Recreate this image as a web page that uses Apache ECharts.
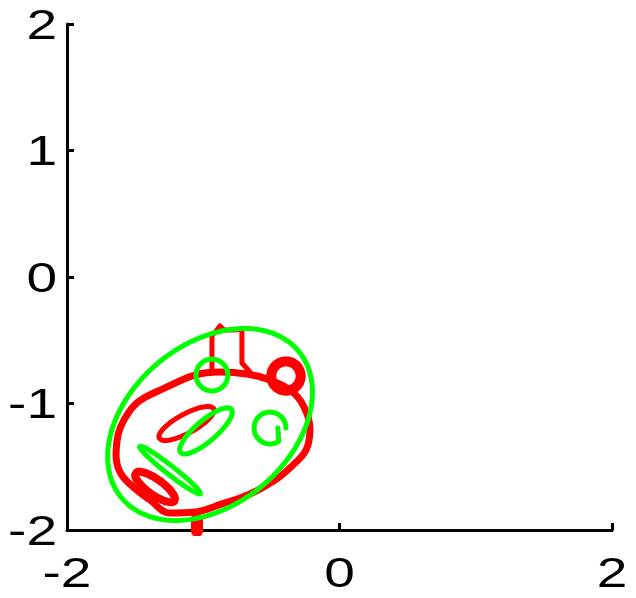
<!DOCTYPE html>
<html><head><meta charset="utf-8">
<script src="https://cdn.jsdelivr.net/npm/echarts@6/dist/echarts.min.js"></script>
<style>html,body{margin:0;padding:0;background:#fff;}#c{width:636px;height:598px;}</style>
</head><body><div id="c"></div>
<script>
// axis ranges / ticks
const xRange = [-2, 2];
const yRange = [-2, 2];
const xStep = 2;
const yStep = 1;
const xTickValues = [-2, 0, 2];
const xTickLabels = ['-2', '0', '2'];
const yTickValues = [-2, -1, 0, 1, 2];
const yTickLabels = ['-2', '-1', '0', '1', '2'];

// ellipse shapes: [cx, cy, rx, ry, rotationDeg, startDeg, endDeg] (data units)
const greenOuter       = [-0.950, -1.166, 0.873, 0.615, 45.8, 0, 360];
const greenSmallCircle = [-0.936, -0.775, 0.117, 0.126, 0, 0, 360];
const greenLens        = [-0.980, -1.217, 0.254, 0.080, 43.1, 0, 360];
const greenC           = [-0.510, -1.194, 0.117, 0.126, 0, 0, 310];
const greenCHookEnd    = [-0.452, -1.194];
const greenBar         = [-1.244, -1.526, 0.291, 0.033, -40.1, 0, 360];

const redRing       = [-0.393, -0.783, 0.108, 0.116, 0, 0, 360];
const redLens       = [-1.123, -1.158, 0.232, 0.074, 30.8, 0, 360];
const redBar        = [-1.354, -1.660, 0.180, 0.060, -38, 0, 360];
const redTail       = [[-1.046, -1.913], [-1.046, -2.008]];

// red box at the top of the contour, read point by point
const redTopBox = [
  [-0.936, -0.751], [-0.936, -0.466], [-0.906, -0.427], [-0.877, -0.387],
  [-0.848, -0.419], [-0.789, -0.419], [-0.716, -0.415], [-0.716, -0.680],
  [-0.657, -0.751]
];

// red outer contour, read point by point
const redOutline = [
  [-1.640, -1.407], [-1.626, -1.249], [-1.582, -1.130], [-1.479, -0.988],
  [-1.281, -0.877], [-1.061, -0.775], [-0.877, -0.751], [-0.679, -0.767],
  [-0.532, -0.806], [-0.363, -0.893], [-0.268, -1.012], [-0.217, -1.209],
  [-0.246, -1.368], [-0.341, -1.486], [-0.473, -1.605], [-0.657, -1.715],
  [-0.862, -1.794], [-1.061, -1.858], [-1.244, -1.866], [-1.391, -1.763],
  [-1.523, -1.652], [-1.611, -1.542]
];

function ellipsePts(e, step) {
  step = step || 3;
  const [cx, cy, rx, ry, rot, s, en] = e;
  const r = rot * Math.PI / 180;
  const pts = [];
  for (let a = s; a <= en + 1e-9; a += step) {
    const t = a * Math.PI / 180;
    const x = rx * Math.cos(t), y = ry * Math.sin(t);
    pts.push([cx + x * Math.cos(r) - y * Math.sin(r), cy + x * Math.sin(r) + y * Math.cos(r)]);
  }
  return pts;
}

const RED = '#ff0000', GREEN = '#00ff00';
function ser(data, color, width, smooth) {
  return {
    type: 'line', data: data, showSymbol: false, symbol: 'none', smooth: smooth || false,
    lineStyle: { color: color, width: width, cap: 'round', join: 'round' },
    silent: true, animation: false, z: color === GREEN ? 3 : 2
  };
}

const closedOutline = redOutline.concat([redOutline[0], redOutline[1]]);

const series = [
  ser(redTail, RED, 12),
  ser(closedOutline, RED, 7, 0.4),
  ser(redTopBox, RED, 5),
  ser(ellipsePts(redRing), RED, 10),
  ser(ellipsePts(redLens), RED, 5),
  ser(ellipsePts(redBar), RED, 8),
  ser(ellipsePts(greenOuter, 2), GREEN, 5),
  ser(ellipsePts(greenSmallCircle), GREEN, 5),
  ser(ellipsePts(greenLens), GREEN, 5),
  ser(ellipsePts(greenC).concat([greenCHookEnd]), GREEN, 5),
  ser(ellipsePts(greenBar), GREEN, 5)
];

const chart = echarts.init(document.getElementById('c'), null, { renderer: 'canvas' });
const axisCommon = {
  type: 'value',
  axisLine: { show: true, onZero: false, lineStyle: { color: '#000', width: 3 } },
  axisTick: { show: true, inside: true, length: 7, lineStyle: { color: '#000', width: 3 } },
  splitLine: { show: false },
  axisLabel: { show: false }
};
chart.setOption({
  backgroundColor: '#fff',
  animation: false,
  grid: { left: 67, right: 24, top: 24, bottom: 68 },
  xAxis: Object.assign({ min: xRange[0], max: xRange[1], interval: xStep }, axisCommon),
  yAxis: Object.assign({ min: yRange[0], max: yRange[1], interval: yStep }, axisCommon),
  series: series
});

// tick labels as real text, horizontally widened like the reference
const FONT = { fill: '#000', fontSize: 43, fontFamily: 'Liberation Sans, Arial, sans-serif' };
const SX = 1.28;
const labels = [];
xTickValues.forEach(function (v, i) {
  const p = chart.convertToPixel({ gridIndex: 0 }, [v, yRange[0]]);
  labels.push({
    type: 'text', x: p[0], y: p[1] + 45, scaleX: SX, silent: true,
    style: Object.assign({ text: xTickLabels[i], align: 'center', verticalAlign: 'middle' }, FONT)
  });
});
yTickValues.forEach(function (v, i) {
  const p = chart.convertToPixel({ gridIndex: 0 }, [xRange[0], v]);
  labels.push({
    type: 'text', x: p[0] - 10, y: p[1] + 3, scaleX: SX, silent: true,
    style: Object.assign({ text: yTickLabels[i], align: 'right', verticalAlign: 'middle' }, FONT)
  });
});
chart.setOption({ graphic: labels });
</script>
</body></html>
